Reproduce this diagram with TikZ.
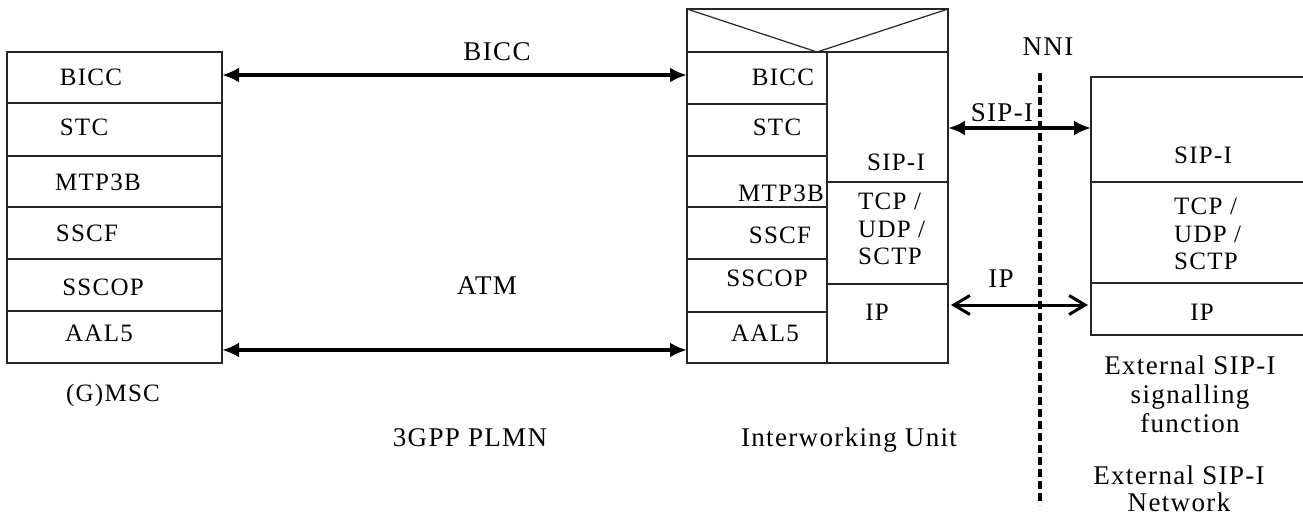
\documentclass[tikz,border=0pt]{standalone}
\usepackage{fontspec}
\setmainfont{Liberation Serif}[LetterSpace=5]
\usetikzlibrary{arrows.meta}
\begin{document}
\begin{tikzpicture}[x=1pt,y=-1pt,
  row/.style={draw=black!85, line width=1.2pt, inner sep=0pt, outer sep=0pt, anchor=north west},
  sl/.style={font=\fontsize{25}{27.5}\selectfont, inner sep=0pt, anchor=base},
  bl/.style={font=\fontsize{27}{29}\selectfont, inner sep=0pt, anchor=base},
  arr/.style={line width=3.5pt, {Latex[length=17pt,width=15pt]}-{Latex[length=17pt,width=15pt]}},
  barb/.style={line width=3pt, {Straight Barb[length=16pt,width=19pt]}-{Straight Barb[length=16pt,width=19pt]}},
  nni/.style={line width=3.5pt, dash pattern=on 8pt off 4pt}]
\useasboundingbox (0,0) rectangle (1303,519);

% left stack (G)MSC
\node[row, minimum width=215pt, minimum height=51pt] (L1) at (7,52) {};
\node[row, minimum width=215pt, minimum height=53pt] (L2) at (7,103) {};
\node[row, minimum width=215pt, minimum height=51pt] (L3) at (7,156) {};
\node[row, minimum width=215pt, minimum height=52pt] (L4) at (7,207) {};
\node[row, minimum width=215pt, minimum height=52pt] (L5) at (7,259) {};
\node[row, minimum width=215pt, minimum height=52pt] (L6) at (7,311) {};
\node[sl] (tL1) at (91,85) {BICC};
\node[sl] (tL2) at (84,135) {STC};
\node[sl] (tL3) at (98,190) {MTP3B};
\node[sl] (tL4) at (87,241) {SSCF};
\node[sl] (tL5) at (103,295) {SSCOP};
\node[sl] (tL6) at (99,341) {AAL5};
\node[sl] (gmsc) at (113,401) {(G)MSC};

% interworking unit
\node[row, minimum width=261pt, minimum height=43pt] (H) at (687,9) {};
\coordinate (v) at (817,52);
\draw[draw=black!85, line width=1.2pt] (H.north west) -- (v) -- (H.north east);
\node[row, minimum width=140pt, minimum height=52pt] (M1) at (687,52) {};
\node[row, minimum width=140pt, minimum height=52pt] (M2) at (687,104) {};
\node[row, minimum width=140pt, minimum height=51pt] (M3) at (687,156) {};
\node[row, minimum width=140pt, minimum height=52pt] (M4) at (687,207) {};
\node[row, minimum width=140pt, minimum height=53pt] (M5) at (687,259) {};
\node[row, minimum width=140pt, minimum height=51pt] (M6) at (687,312) {};
\node[row, minimum width=121pt, minimum height=130pt] (N1) at (827,52) {};
\node[row, minimum width=121pt, minimum height=102pt] (N2) at (827,182) {};
\node[row, minimum width=121pt, minimum height=79pt] (N3) at (827,284) {};
\node[sl] (tM1) at (783,85) {BICC};
\node[sl] (tM2) at (777,135) {STC};
\node[sl] (tM3) at (781,201) {MTP3B};
\node[sl] (tM4) at (780,243) {SSCF};
\node[sl] (tM5) at (767,286) {SSCOP};
\node[sl] (tM6) at (765,341) {AAL5};
\node[sl] (tN1) at (896,170) {SIP-I};
\node[sl, anchor=north west, align=left] (tN2) at (858,193) {TCP /\\UDP /\\SCTP};
\node[sl] (tN3) at (877,320) {IP};

% external SIP-I signalling function
\node[row, minimum width=215pt, minimum height=105pt] (R1) at (1091,77) {};
\node[row, minimum width=215pt, minimum height=101pt] (R2) at (1091,182) {};
\node[row, minimum width=215pt, minimum height=52pt] (R3) at (1091,283) {};
\node[sl] (tR1) at (1203,163) {SIP-I};
\node[sl, anchor=north west, align=left] (tR2) at (1174,198) {TCP /\\UDP /\\SCTP};
\node[sl] (tR3) at (1202,320) {IP};

% connectors
\coordinate (b1) at (222,75);
\coordinate (b2) at (687,75);
\coordinate (a1) at (222,350);
\coordinate (a2) at (687,350);
\coordinate (s1) at (948,128);
\coordinate (s2) at (1091,128);
\coordinate (i1) at (951,305);
\coordinate (i2) at (1088,305);
\draw[arr] (b1) -- (b2);
\draw[arr] (a1) -- (a2);
\draw[arr] (s1) -- (s2);
\draw[barb] (i1) -- (i2);
\node[bl] (lbicc) at (497,61) {BICC};
\node[bl] (latm) at (487,294) {ATM};
\node[bl] (lsip) at (1002,121) {SIP-I};
\node[bl] (lip) at (1001,287) {IP};

% NNI
\coordinate (n1) at (1040,73);
\coordinate (n2) at (1040,505);
\draw[nni] (n1) -- (n2);
\node[bl] (lnni) at (1048,56) {NNI};

% captions
\node[bl] (plmn) at (470,446) {3GPP PLMN};
\node[bl] (iwu) at (849,446) {Interworking Unit};
\node[bl, anchor=north, align=center] (ext) at (1190,355.6) {External SIP-I\\signalling\\function};
\node[bl, anchor=north, align=center, font=\fontsize{27}{27}\selectfont] (extn) at (1179,466) {External SIP-I\\Network};
\end{tikzpicture}
\end{document}
